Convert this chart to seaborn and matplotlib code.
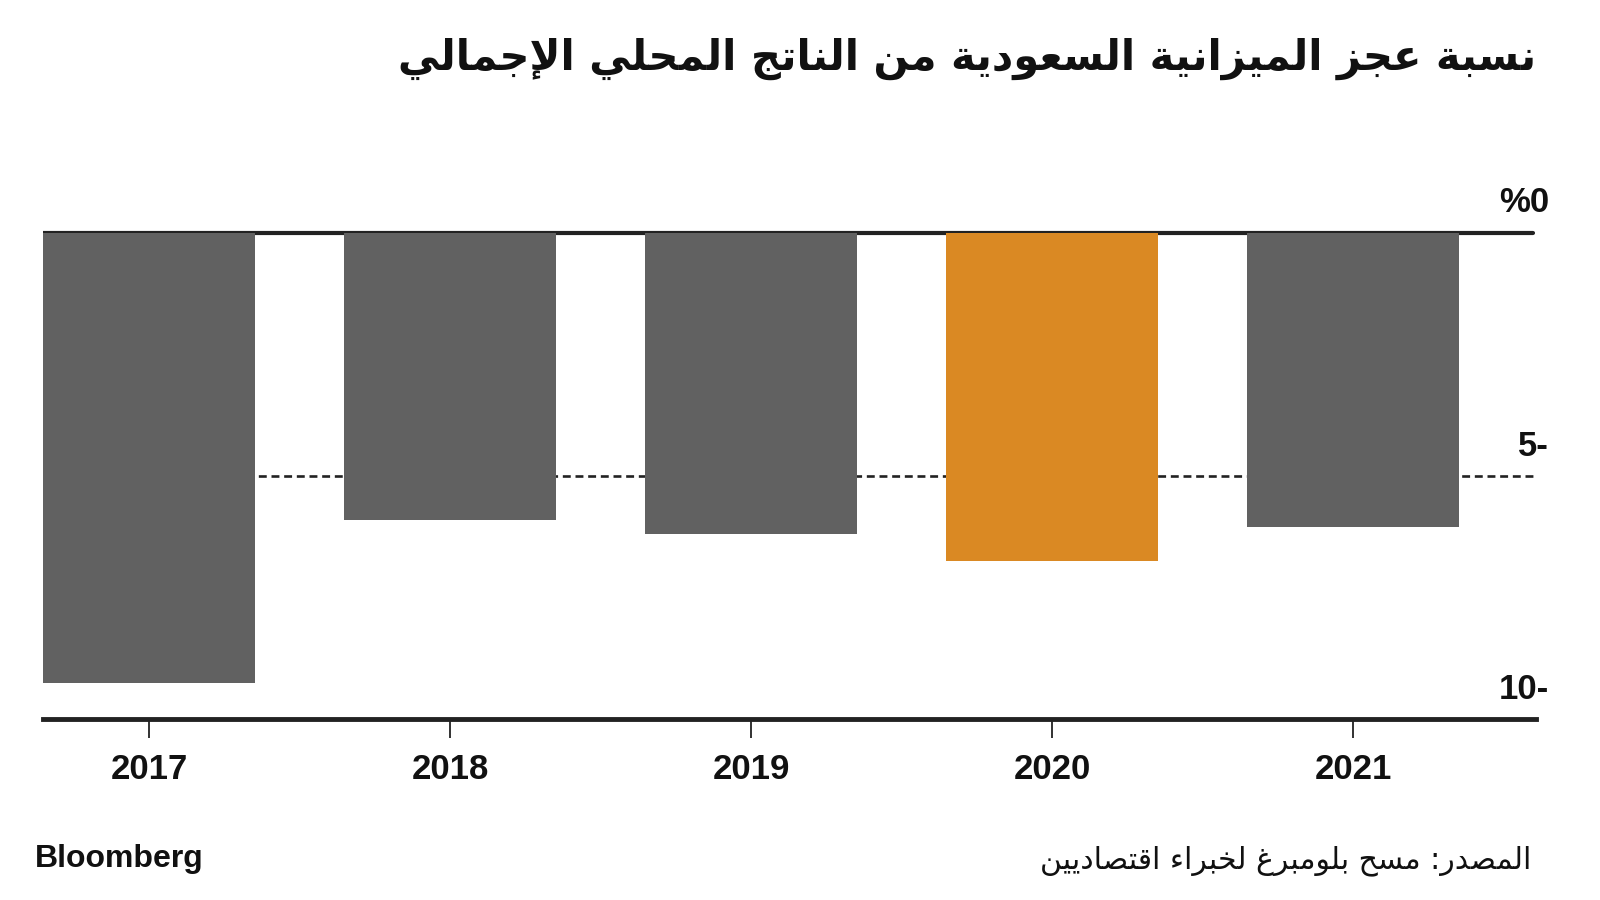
import numpy as np
import pandas as pd
import matplotlib
matplotlib.use("Agg")
import matplotlib.pyplot as plt
import seaborn as sns

# Data
years = ["2017", "2018", "2019", "2020", "2021"]
deficit = [-9.25, -5.9, -6.2, -6.75, -6.05]
bar_colors = ["#616161", "#616161", "#616161", "#DA8923", "#616161"]
ytick_vals = [0, -5, -10]
ytick_text = ["%0", "5-", "10-"]

title = "نسبة عجز الميزانية السعودية من الناتج المحلي الإجمالي"
source = "المصدر: مسح بلومبرغ لخبراء اقتصاديين"

# matplotlib has no Arabic shaping, so map letters to presentation forms
# (isolated, final, initial, medial) and reverse to visual order
FORMS = {
    "\u0621": ("\uFE80",),
    "\u0625": ("\uFE87", "\uFE88"),
    "\u0627": ("\uFE8D", "\uFE8E"),
    "\u0628": ("\uFE8F", "\uFE90", "\uFE91", "\uFE92"),
    "\u0629": ("\uFE93", "\uFE94"),
    "\u062A": ("\uFE95", "\uFE96", "\uFE97", "\uFE98"),
    "\u062C": ("\uFE9D", "\uFE9E", "\uFE9F", "\uFEA0"),
    "\u062D": ("\uFEA1", "\uFEA2", "\uFEA3", "\uFEA4"),
    "\u062E": ("\uFEA5", "\uFEA6", "\uFEA7", "\uFEA8"),
    "\u062F": ("\uFEA9", "\uFEAA"),
    "\u0631": ("\uFEAD", "\uFEAE"),
    "\u0632": ("\uFEAF", "\uFEB0"),
    "\u0633": ("\uFEB1", "\uFEB2", "\uFEB3", "\uFEB4"),
    "\u0635": ("\uFEB9", "\uFEBA", "\uFEBB", "\uFEBC"),
    "\u0639": ("\uFEC9", "\uFECA", "\uFECB", "\uFECC"),
    "\u063A": ("\uFECD", "\uFECE", "\uFECF", "\uFED0"),
    "\u0642": ("\uFED5", "\uFED6", "\uFED7", "\uFED8"),
    "\u0644": ("\uFEDD", "\uFEDE", "\uFEDF", "\uFEE0"),
    "\u0645": ("\uFEE1", "\uFEE2", "\uFEE3", "\uFEE4"),
    "\u0646": ("\uFEE5", "\uFEE6", "\uFEE7", "\uFEE8"),
    "\u0648": ("\uFEED", "\uFEEE"),
    "\u064A": ("\uFEF1", "\uFEF2", "\uFEF3", "\uFEF4"),
}
LAM_ALEF = {
    "\u0627": ("\uFEFB", "\uFEFC"),
    "\u0623": ("\uFEF7", "\uFEF8"),
    "\u0625": ("\uFEF9", "\uFEFA"),
}


def shape_arabic(text):
    units = []
    i = 0
    while i < len(text):
        c = text[i]
        if c == "\u0644" and i + 1 < len(text) and text[i + 1] in LAM_ALEF:
            units.append(LAM_ALEF[text[i + 1]])
            i += 2
        else:
            units.append(FORMS.get(c, (c,)))
            i += 1
    out = []
    for k, f in enumerate(units):
        prev_j = k > 0 and len(units[k - 1]) == 4 and len(f) > 1
        next_j = len(f) == 4 and k + 1 < len(units) and len(units[k + 1]) > 1
        if len(f) == 1:
            out.append(f[0])
        elif prev_j and next_j:
            out.append(f[3])
        elif prev_j:
            out.append(f[1])
        elif next_j:
            out.append(f[2])
        else:
            out.append(f[0])
    return "".join(out)[::-1]


df = pd.DataFrame({"year": years, "value": deficit})

sns.set_theme(style="white")
plt.rcParams["font.family"] = ["DejaVu Sans"]

fig = plt.figure(figsize=(16, 9), dpi=100)
ax = fig.add_axes([0.027, 0.2007, 0.933, 0.5677])

# reference lines behind the bars
ax.axhline(0, color="#222222", lw=3, zorder=0, xmax=0.998)
ax.axhline(-5, color="#222222", lw=1.9, ls=(0, (3, 1.8)), zorder=0)

sns.barplot(data=df, x="year", y="value", hue="year",
            palette=dict(zip(years, bar_colors)), legend=False,
            width=0.705, saturation=1, linewidth=0, ax=ax, zorder=2)

ax.set_xlim(-0.352, 4.608)
ax.set_ylim(-10, 0.5)
ax.set_xlabel("")
ax.set_ylabel("")
ax.set_yticks([])

for s in ["top", "right", "left"]:
    ax.spines[s].set_visible(False)
ax.spines["bottom"].set_color("#222222")
ax.spines["bottom"].set_linewidth(3.5)

ax.tick_params(axis="x", bottom=True, length=14, width=1.3, color="#222222",
               pad=10, labelsize=25)
for lab in ax.get_xticklabels():
    lab.set_fontfamily("Liberation Sans")
    lab.set_fontweight("bold")
    lab.set_color("#111111")

# y labels above their lines, right side
for v, t in zip(ytick_vals, ytick_text):
    ax.annotate(t, xy=(1.0, v), xycoords=("axes fraction", "data"),
                xytext=(13, 30), textcoords="offset pixels",
                ha="right", va="center", fontsize=25, fontweight="bold",
                family="Liberation Sans", color="#111111",
                annotation_clip=False)

fig.text(0.96, 0.935, shape_arabic(title), ha="right", va="center",
         fontsize=30, fontweight="bold", color="#111111")
fig.text(0.957, 0.044, shape_arabic(source), ha="right", va="center",
         fontsize=21.5, color="#111111")
fig.text(0.022, 0.046, "Bloomberg", ha="left", va="center",
         fontsize=23, fontweight="bold", family="Liberation Sans",
         color="#111111")

fig.savefig("out.png", dpi=100)
